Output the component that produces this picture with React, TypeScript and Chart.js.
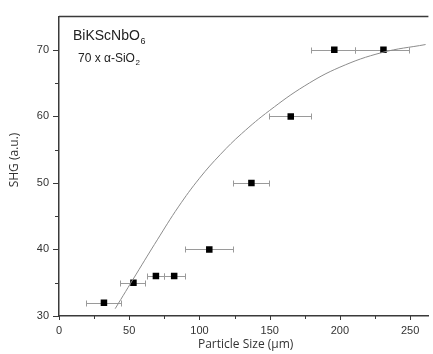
import React, { useEffect, useRef } from "react";
import { Chart, registerables } from "chart.js";

Chart.register(...registerables);

const particleSize = [32, 53, 69, 82, 107, 137, 165, 196, 231];
const shg = [32, 35, 36, 36, 40, 50, 60, 70, 70];
const errLow = [19.3, 43.1, 62.4, 74.8, 89.5, 124, 149.5, 179.4, 211];
const errHigh = [44.3, 61.4, 74.8, 89.5, 124, 149.5, 179.4, 211, 249];

const fitX = [40, 55, 70, 85, 100, 115, 130, 150, 175, 200, 230, 261];
const fitY = [31.1, 36.3, 41.45, 46.4, 50.7, 54.3, 57.4, 60.9, 64.6, 67.4, 69.6, 70.8];

const xTickLabels = [0, 50, 100, 150, 200, 250];
const yTickLabels = [30, 40, 50, 60, 70];

const overlay = {
  id: "overlay",
  beforeDatasetsDraw(chart: any) {
    const { ctx, chartArea, scales } = chart;
    const xs = scales.x;
    const ys = scales.y;
    ctx.save();
    ctx.strokeStyle = "#3a3a3a";
    ctx.lineWidth = 1.5;
    ctx.beginPath();
    ctx.moveTo(chartArea.left, chartArea.top);
    ctx.lineTo(chartArea.right, chartArea.top);
    ctx.stroke();
    ctx.lineWidth = 1;
    ctx.strokeStyle = "#3a3a3a";
    xs.ticks.forEach((t: any) => {
      const px = Math.round(xs.getPixelForValue(t.value)) + 0.5;
      const major = xTickLabels.includes(t.value);
      ctx.beginPath();
      ctx.moveTo(px, chartArea.bottom);
      ctx.lineTo(px, chartArea.bottom + (major ? 4 : 3));
      ctx.stroke();
    });
    ys.ticks.forEach((t: any) => {
      const py = Math.round(ys.getPixelForValue(t.value)) + 0.5;
      const major = yTickLabels.includes(t.value);
      ctx.beginPath();
      ctx.moveTo(chartArea.left, py);
      ctx.lineTo(chartArea.left - (major ? 6 : 4), py);
      ctx.stroke();
    });
    ctx.strokeStyle = "#9a9a9a";
    ctx.lineWidth = 1;
    for (let i = 0; i < particleSize.length; i++) {
      const y = Math.round(ys.getPixelForValue(shg[i])) + 0.5;
      const x1 = Math.round(xs.getPixelForValue(errLow[i])) + 0.5;
      const x2 = Math.round(xs.getPixelForValue(errHigh[i])) + 0.5;
      ctx.beginPath();
      ctx.moveTo(x1, y);
      ctx.lineTo(x2, y);
      ctx.moveTo(x1, y - 3);
      ctx.lineTo(x1, y + 3);
      ctx.moveTo(x2, y - 3);
      ctx.lineTo(x2, y + 3);
      ctx.stroke();
    }
    ctx.restore();
  },
  afterDraw(chart: any) {
    const { ctx, chartArea } = chart;
    ctx.save();
    ctx.fillStyle = "#222";
    ctx.textBaseline = "alphabetic";
    ctx.textAlign = "left";
    ctx.font = "14px 'Liberation Sans', Arial, sans-serif";
    let x = 73;
    const t1 = "BiKScNbO";
    ctx.fillText(t1, x, 40);
    x += ctx.measureText(t1).width;
    ctx.font = "9px 'Liberation Sans', Arial, sans-serif";
    ctx.fillText("6", x + 0.5, 44);
    ctx.font = "12px 'Liberation Sans', Arial, sans-serif";
    x = 78;
    const t2 = "70 x \u03B1-SiO";
    ctx.fillText(t2, x, 62);
    x += ctx.measureText(t2).width;
    ctx.font = "8px 'Liberation Sans', Arial, sans-serif";
    ctx.fillText("2", x + 0.5, 65);
    ctx.fillStyle = "#333";
    ctx.font = "12px 'Open Sans', sans-serif";
    ctx.textAlign = "center";
    ctx.textBaseline = "middle";
    ctx.fillText("Particle Size (\u03BCm)", (chartArea.left + chartArea.right) / 2 + 2, 345);
    ctx.translate(15, 160);
    ctx.rotate(-Math.PI / 2);
    ctx.fillText("SHG (a.u.)", 0, 0);
    ctx.restore();
  },
};

export default function App() {
  const ref = useRef<HTMLCanvasElement>(null);
  useEffect(() => {
    document.body.style.margin = "0";
    const canvas = ref.current!;
    const chart = new Chart(canvas, {
      type: "scatter",
      data: {
        datasets: [
          {
            label: "fit",
            data: fitX.map((v, i) => ({ x: v, y: fitY[i] })),
            showLine: true,
            borderColor: "#8c8c8c",
            borderWidth: 1,
            pointRadius: 0,
            tension: 0.4,
            fill: false,
          } as any,
          {
            label: "SHG",
            data: particleSize.map((v, i) => ({ x: v, y: shg[i] })),
            pointStyle: "rect",
            pointRadius: 4.6,
            backgroundColor: "#000",
            borderColor: "#000",
            borderWidth: 0,
          },
        ],
      },
      options: {
        animation: false,
        responsive: false,
        maintainAspectRatio: false,
        layout: { padding: { top: 13, right: 0, left: 0, bottom: 0 } },
        plugins: { legend: { display: false }, tooltip: { enabled: false } },
        scales: {
          x: {
            type: "linear",
            min: 0,
            max: 263,
            afterFit: (s: any) => {
              s.height = 38;
            },
            afterBuildTicks: (s: any) => {
              const arr = [];
              for (let v = 0; v <= 250; v += 25) arr.push({ value: v });
              s.ticks = arr;
            },
            ticks: {
              padding: 8,
              color: "#333",
              font: { family: "'Liberation Sans', Arial, sans-serif", size: 11 },
              callback: (v: any) => (xTickLabels.includes(v) ? String(v) : ""),
              maxRotation: 0,
              autoSkip: false,
            },
            grid: { display: false, drawTicks: false },
            border: { display: true, color: "#3a3a3a", width: 1.5 },
          },
          y: {
            type: "linear",
            min: 30,
            max: 75,
            afterFit: (s: any) => {
              s.width = 59;
            },
            afterBuildTicks: (s: any) => {
              const arr = [];
              for (let v = 30; v <= 70; v += 5) arr.push({ value: v });
              s.ticks = arr;
            },
            ticks: {
              padding: 10,
              color: "#333",
              font: { family: "'Liberation Sans', Arial, sans-serif", size: 11 },
              callback: (v: any) => (yTickLabels.includes(v) ? String(v) : ""),
              autoSkip: false,
            },
            grid: { display: false, drawTicks: false },
            border: { display: true, color: "#3a3a3a", width: 1.5 },
          },
        },
      },
      plugins: [overlay],
    });
    return () => chart.destroy();
  }, []);
  return <canvas ref={ref} width={433} height={354} style={{ display: "block" }} />;
}
